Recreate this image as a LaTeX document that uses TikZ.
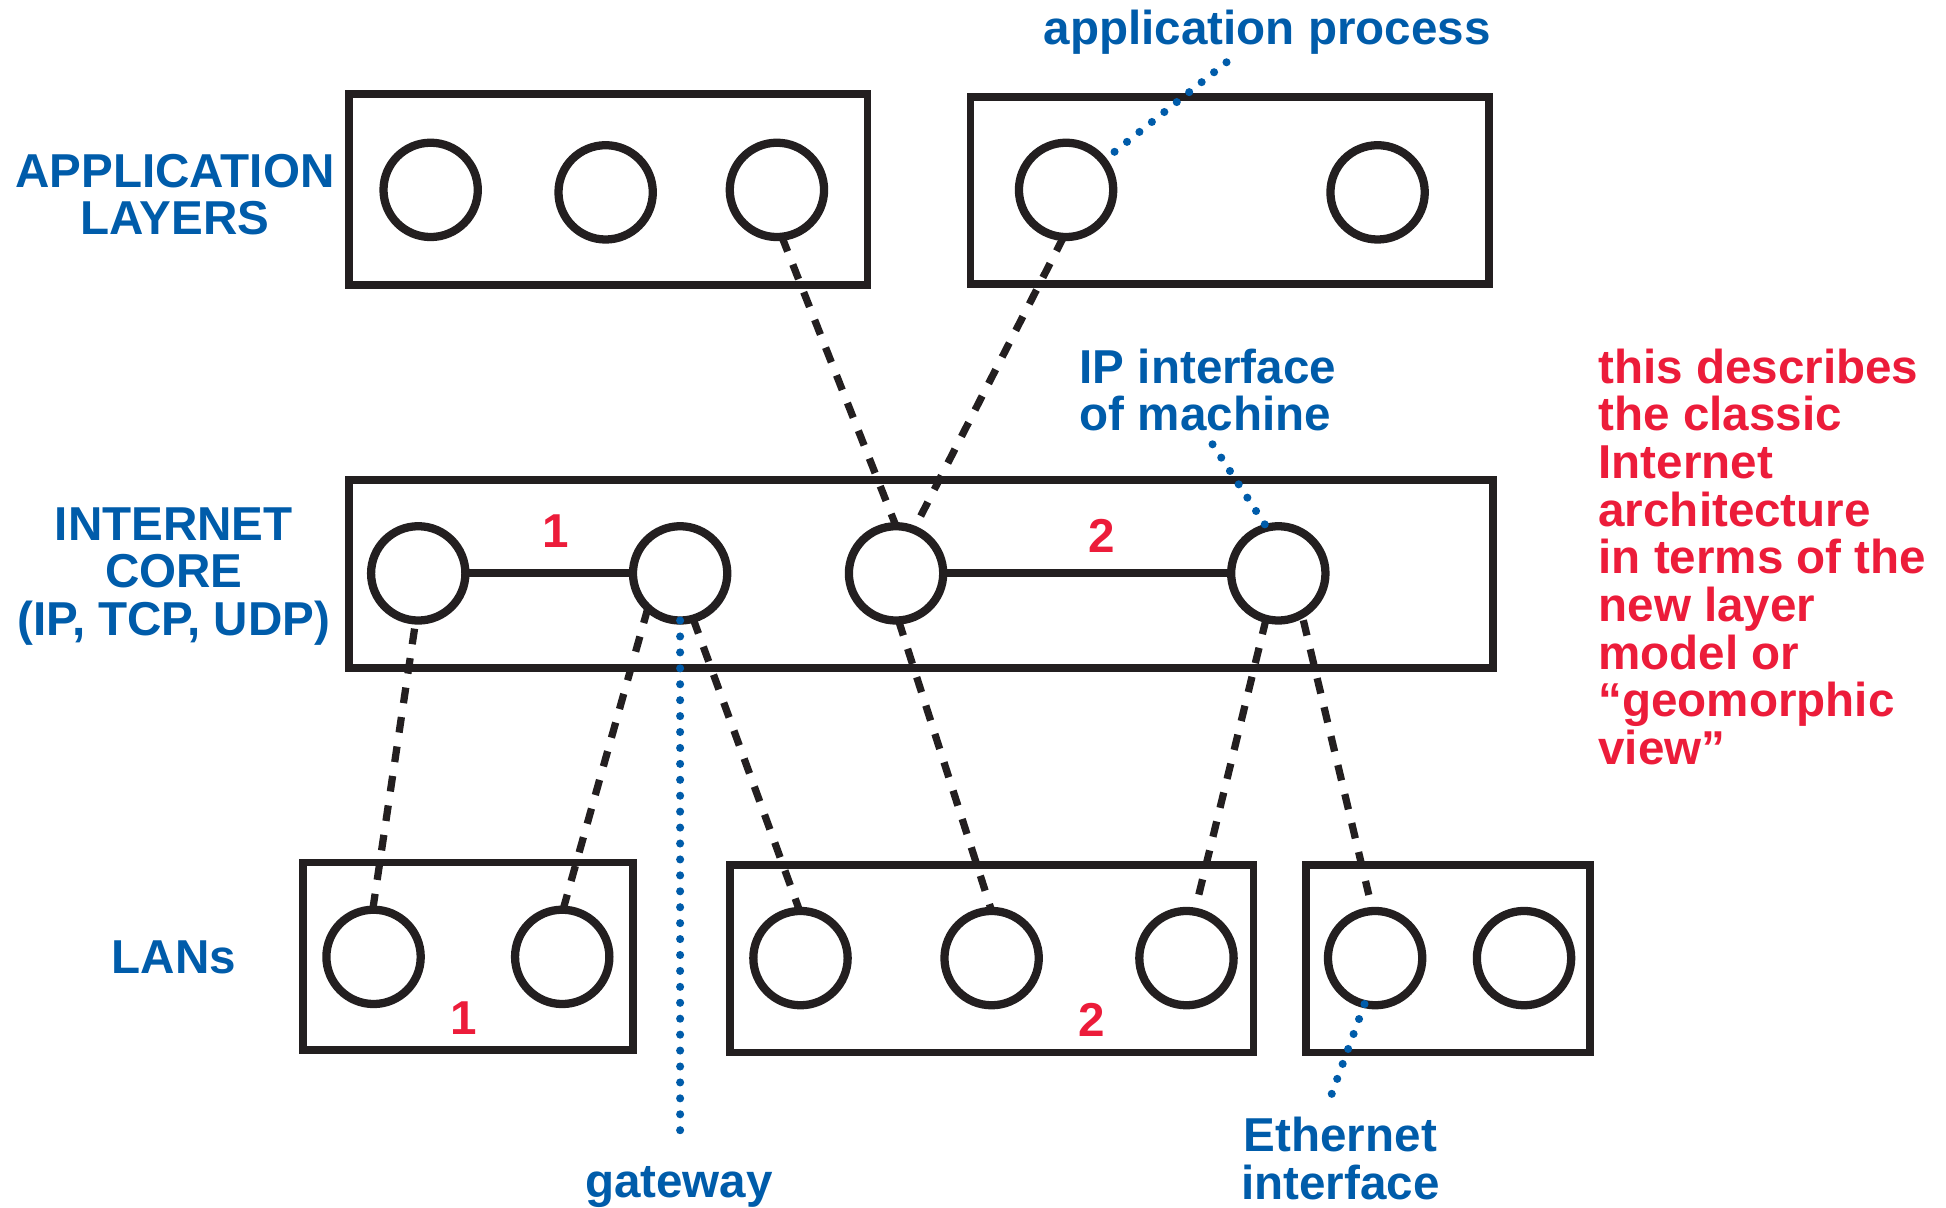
\documentclass[tikz,border=0pt]{standalone}
\usepackage{fontspec}
\setmainfont{Liberation Sans}
\usetikzlibrary{fit}
\definecolor{inkblack}{RGB}{35,31,32}
\definecolor{labelblue}{RGB}{0,92,170}
\definecolor{notered}{RGB}{236,28,58}

\begin{document}
\begin{tikzpicture}[x=0.6pt,y=-0.6pt,
  every node/.style={inner sep=0pt, outer sep=0pt},
  txt/.style={font=\fontsize{23}{23.04}\selectfont\bfseries},
  bluetxt/.style={txt, text=labelblue},
  redtxt/.style={txt, text=notered},
  layerbox/.style={draw=inkblack, line width=3.8pt, rectangle, inner sep=0pt},
  proc/.style={draw=inkblack, line width=4pt, circle, minimum size=45.6pt, inner sep=0pt},
  link/.style={draw=inkblack, line width=3.9pt},
  dashlink/.style={draw=inkblack, line width=3.5pt, dash pattern=on 7.6pt off 6.8pt},
  pointer/.style={draw=labelblue, line width=3.9pt, line cap=round, dash pattern=on 0pt off 7.7pt},
]
\useasboundingbox (0,0) rectangle (1568,973);

% layer boxes
\node[layerbox, fit={(281,76) (699,229.5)}] (app1) {};
\node[layerbox, fit={(782,78) (1200,229)}] (app2) {};
\node[layerbox, fit={(281,387) (1203,538)}] (core) {};
\node[layerbox, fit={(244,695) (510,846)}] (lan1) {};
\node[layerbox, fit={(588,697) (1010,848)}] (lan2) {};
\node[layerbox, fit={(1052,697) (1281,848)}] (lan3) {};

% application processes
\node[proc] (A1) at (347,153) {};
\node[proc] (A2) at (488,155) {};
\node[proc] (A3) at (626,153) {};
\node[proc] (A4) at (859,153) {};
\node[proc] (A5) at (1110,155) {};

% IP interfaces in the internet core
\node[proc] (C1) at (337,462) {};
\node[proc] (C2) at (548,462) {};
\node[proc] (C3) at (722,462) {};
\node[proc] (C4) at (1030,462) {};

% LAN interfaces
\node[proc] (L1) at (301,771) {};
\node[proc] (L2) at (453,771) {};
\node[proc] (L3) at (645,772) {};
\node[proc] (L4) at (799,772) {};
\node[proc] (L5) at (956,772) {};
\node[proc] (L6) at (1108,772) {};
\node[proc] (L7) at (1228,772) {};

% links inside the core
\draw[link] (C1) -- (C2);
\draw[link] (C3) -- (C4);

% layer-to-layer bindings
\draw[dashlink] (A3.276) -- (C3.90);
\draw[dashlink] (A4.267) -- (C3.68);
\draw[dashlink, shorten <=4pt] (C1.267) -- (L1.91);
\draw[dashlink] (C2.227) -- (L2.89);
\draw[dashlink] (C2.286) -- (L3.91);
\draw[dashlink] (C3.273) -- (L4.90);
\draw[dashlink, shorten >=8pt] (C4.255) -- (L5.80);
\draw[dashlink, shorten <=3pt, shorten >=8pt] (C4.300) -- (L6.93);

% network numbers
\node[redtxt] (n1) at (448,428) {1};
\node[redtxt] (n2) at (888,432) {2};
\node[redtxt] (m1) at (374,820) {1};
\node[redtxt] (m2) at (880,822) {2};

% labels
\node[bluetxt, align=center, anchor=north] (applbl) at (141,124) {APPLICATION\\LAYERS};
\node[bluetxt, align=center, anchor=north] (corelbl) at (140,409) {INTERNET\\CORE\\(IP, TCP, UDP)};
\node[bluetxt] (lanlbl) at (140,771) {LANs};
\node[bluetxt, anchor=base] (aplbl) at (1021,36) {application process};
\node[bluetxt, align=left, anchor=north west] (iplbl) at (870,281) {IP interface\\of machine};
\node[bluetxt, anchor=base] (gwlbl) at (547,965) {gateway};
\node[bluetxt, align=center, anchor=north] (ethlbl) at (1080,900) {Ethernet\\interface};
\node[redtxt, align=left, anchor=north west] (note) at (1288,281)
  {this describes\\the classic\\Internet\\architecture\\in terms of the\\new layer\\model or\\“geomorphic\\view”};

% pointer ends
\coordinate (apend) at (991,48);
\coordinate (ipend) at (977,358);
\coordinate (gwend) at (548,917);
\coordinate (ethend) at (1071,887);

% dotted pointers from labels
\draw[pointer, shorten <=7pt] (A4.38) -- (apend);
\draw[pointer] (ipend) -- (C4.104);
\draw[pointer] (C2.270) -- (gwend);
\draw[pointer] (L6.257) -- (ethend);
\end{tikzpicture}
\end{document}
